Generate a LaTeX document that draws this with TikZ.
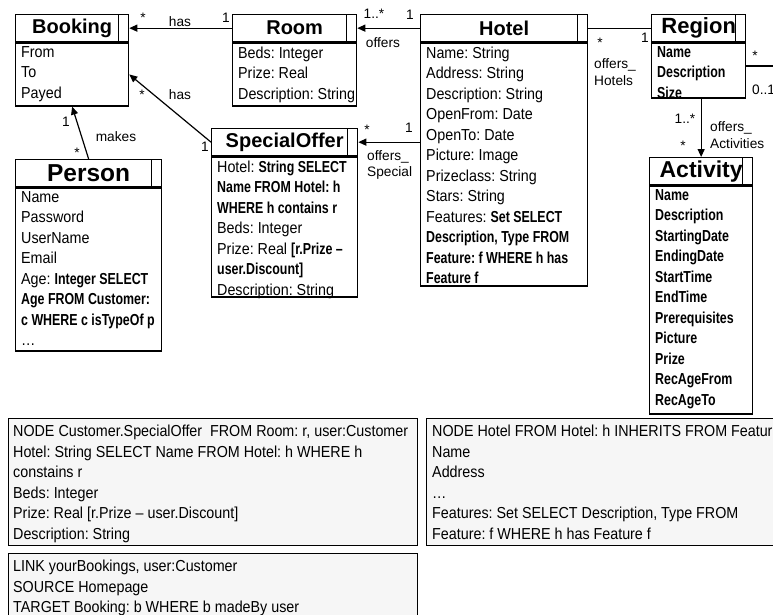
\documentclass[tikz,border=0pt]{standalone}
\usepackage{fontspec}
\setmainfont{Liberation Sans}[FakeStretch=0.9,BoldFeatures={FakeStretch=0.78}]
\newfontfamily\headfont{Liberation Sans}
\newfontfamily\labelfont{Liberation Sans}
\usetikzlibrary{arrows.meta}
\definecolor{notefill}{gray}{0.965}
\newcommand{\attrsize}{\fontsize{15.9}{20.5}\selectfont}
\frenchspacing

\tikzset{
  box/.style={draw, line width=1.3pt},
  classhead/.style={box, anchor=north west, inner sep=0pt, minimum height=27pt,
    font=\headfont\bfseries\fontsize{20}{20}\selectfont},
  classbody/.style={box, anchor=north west, inner sep=0pt},
  attrs/.style={anchor=north west, inner sep=0pt, align=left, font=\attrsize},
  notebox/.style={draw, line width=1pt, fill=notefill, anchor=north west, inner sep=0pt},
  assoc/.style={line width=1.2pt},
  navi/.style={assoc, -{Triangle[length=8pt,width=7pt]}},
  mult/.style={inner sep=0pt, align=left, font=\labelfont\fontsize{13.7}{16.5}\selectfont},
}

% name, x, y, width, body height, title, attributes
\newcommand{\umlclass}[7]{%
  \node[classhead, minimum width=#4pt] (#1) at (#2,#3) {#6};
  \node[classbody, minimum width=#4pt, minimum height=#5pt] (#1-body) at (#1.south west) {};
  \node[attrs] (#1-attrs) at ([xshift=6pt,yshift=-4pt]#1-body.north west) {#7};
  \draw[box] ([xshift=-11pt]#1.north east) -- ([xshift=-11pt]#1.south east);
}

\begin{document}
\begin{tikzpicture}[x=1pt,y=-1pt]
\useasboundingbox (0,0) rectangle (773,614);
\clip (0,0) rectangle (773,614);
%CLASSES
\umlclass{booking}{15}{14}{113}{63}{Booking}{From\\To\\Payed}
\umlclass{room}{232}{14}{124}{63}{Room}{Beds: Integer\\Prize: Real\\Description: String}
\umlclass{hotel}{420}{14}{167}{243}{Hotel}{Name: String\\Address: String\\Description: String\\OpenFrom: Date\\OpenTo: Date\\Picture: Image\\Prizeclass: String\\Stars: String\\Features: \textbf{Set SELECT}\\\textbf{Description, Type FROM}\\\textbf{Feature: f WHERE h has}\\\textbf{Feature f}}
\umlclass{region}{651}{14}{94}{55}{\fontsize{22}{22}\selectfont Region}{\textbf{Name}\\\textbf{Description}\\\textbf{Size}}
\umlclass{activity}{649}{157}{103}{228}{\fontsize{23}{23}\selectfont Activity}{\textbf{Name}\\\textbf{Description}\\\textbf{StartingDate}\\\textbf{EndingDate}\\\textbf{StartTime}\\\textbf{EndTime}\\\textbf{Prerequisites}\\\textbf{Picture}\\\textbf{Prize}\\\textbf{RecAgeFrom}\\\textbf{RecAgeTo}}
\umlclass{special}{211}{128}{146}{140}{SpecialOffer}{Hotel: \textbf{String SELECT}\\\textbf{Name FROM Hotel: h}\\\textbf{WHERE h contains r}\\Beds: Integer\\Prize: Real \textbf{[r.Prize –}\\\textbf{user.Discount]}\\Description: String}
\umlclass{person}{15}{159}{146}{163}{\fontsize{24.5}{24.5}\selectfont Person}{Name\\Password\\UserName\\Email\\Age: \textbf{Integer SELECT}\\\textbf{Age FROM Customer:}\\\textbf{c WHERE c isTypeOf p}\\…}

%ASSOCIATIONS
\coordinate (regionself) at (780,66);
\draw[navi] (room.west) -- (booking.east);
\draw[navi] (hotel.west) -- (room.east);
\draw[assoc] (hotel.east) -- (region.west);
\draw[navi] (special.west) -- (booking-body.east);
\draw[navi] (hotel-body.west |- special.west) -- (special.east);
\draw[navi] (person.north) -- (booking-body.south);
\draw[navi] (region-body.south -| activity.north) -- (activity.north);
\draw[assoc] (region-body.east |- regionself) -- (regionself);

%LABELS
\node[mult] (m-bookroom) at (143,18) {*};
\node[mult] (has-room) at (180,22) {has};
\node[mult] (m-roombook) at (226,18) {1};
\node[mult] (m-roomhotel) at (374,14) {1..*};
\node[mult] (m-hotelroom) at (410,15) {1};
\node[mult] (offers-room) at (383,43) {offers};
\node[mult] (m-bookspecial) at (142,95) {*};
\node[mult] (has-special) at (180,95) {has};
\node[mult] (m-specialbook) at (205,147) {1};
\node[mult] (m-bookperson) at (66,122) {1};
\node[mult] (makes) at (116,137) {makes};
\node[mult] (m-personbook) at (77,153) {*};
\node[mult] (m-specialhotel) at (367,130) {*};
\node[mult] (m-hotelspecial) at (409,128) {1};
\node[mult, anchor=west] (offers-special) at (367,165) {offers\_\\Special};
\node[mult] (m-hotelregion) at (600,43) {*};
\node[mult] (m-regionhotel) at (645,38) {1};
\node[mult, anchor=west] (offers-hotels) at (594,72) {offers\_\\Hotels};
\node[mult] (m-regionact) at (685,119) {1..*};
\node[mult] (m-actregion) at (683,146) {*};
\node[mult, anchor=west] (offers-act) at (710,135) {offers\_\\Activities};
\node[mult] (m-regionself) at (755,56) {*};
\node[mult, anchor=west] (m-regionself2) at (752,90) {0..1};

%NOTES
\node[notebox, minimum width=409pt, minimum height=127pt] (nodespecial) at (8,418) {};
\node[attrs] (nodespecial-text) at ([xshift=5pt,yshift=-7pt]nodespecial.north west)
  {NODE Customer.SpecialOffer~ FROM Room: r, user:Customer\\Hotel: String SELECT Name FROM Hotel: h WHERE h\\constains r\\Beds: Integer\\Prize: Real [r.Prize – user.Discount]\\Description: String};
\node[notebox, minimum width=409pt, minimum height=75pt] (linkbookings) at (8,553) {};
\node[attrs] (linkbookings-text) at ([xshift=5pt,yshift=-7pt]linkbookings.north west)
  {LINK yourBookings, user:Customer\\SOURCE Homepage\\TARGET Booking: b WHERE b madeBy user};
\node[notebox, minimum width=400pt, minimum height=127pt] (nodehotel) at (426,418) {};
\node[attrs] (nodehotel-text) at ([xshift=6pt,yshift=-7pt]nodehotel.north west)
  {NODE Hotel FROM Hotel: h INHERITS FROM Feature\\Name\\Address\\…\\Features: Set SELECT Description, Type FROM\\Feature: f WHERE h has Feature f};
\end{tikzpicture}
\end{document}
